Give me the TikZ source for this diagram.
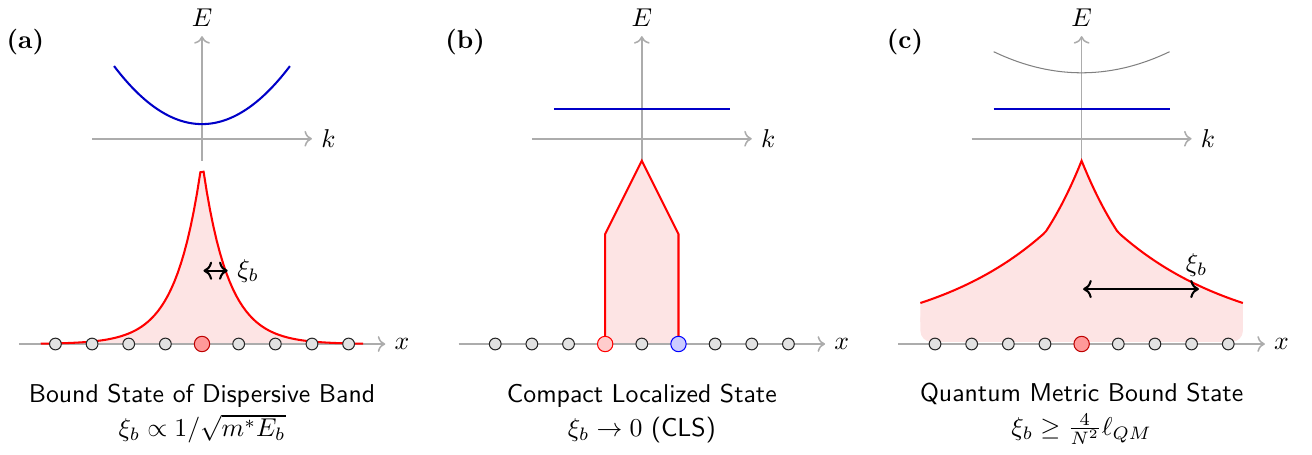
\documentclass[tikz,border=0pt]{standalone}
\usepackage{amsmath,amssymb}
\usetikzlibrary{arrows.meta,positioning}
\definecolor{WaveFill}{HTML}{FDE4E4}
\definecolor{SiteGray}{HTML}{E2E2E2}
\definecolor{BandBlue}{HTML}{0000C8}

\begin{document}
\begin{tikzpicture}[>=To]
        \tikzset{
          axis/.style={->, gray!65, semithick},
          axislabel/.style={text=black},
          band/.style={BandBlue, thick},
          wave/.style={red, thick},
          wavefill/.style={fill=WaveFill},
          site/.style={circle, draw=black!85, fill=SiteGray, thin,
            minimum size=0.16cm, inner sep=0pt},
          hotsite/.style={site, minimum size=0.21cm, fill=red!40, draw=red!75!black},
          panellabel/.style={font=\bfseries},
          caption/.style={align=center, font=\sffamily}
        }
        \useasboundingbox (-2.756,-1.514) rectangle (15.143,4.693);

        % (a) dispersive band
        \node[panellabel] (la) at (-2.41,4.12) {(a)};
        \draw[axis] (-1.5,2.8) -- (1.5,2.8) node[axislabel,right] (ka) {$k$};
        \draw[axis] (0,2.5) -- (0,4.2) node[axislabel,above] (ea) {$E$};
        \draw[band,domain=-1.2:1.2,samples=60] plot (\x,{3.0+0.55*\x*\x});
        \fill[wavefill,domain=-2.2:2.2,samples=100] (-2.2,0) -- plot (\x,{2.5*exp(-abs(\x)/0.35)}) -- (2.2,0) -- cycle;
        \draw[axis] (-2.5,0) -- (2.5,0) node[axislabel,right] (xa) {$x$};
        \draw[wave,domain=-2.2:2.2,samples=100] plot (\x,{2.5*exp(-abs(\x)/0.35)});
        \draw[<->,thick] (0.02,1.0) -- (0.35,1.0) node[right] (xia) {$\xi_b$};
        \foreach \i in {-4,...,4}
          \node[site] (sa\i) at (0.5*\i,0) {};
        \node[hotsite] (ca) at (0,0) {};
        \node[caption] (capa) at (0,-0.95) {Bound State of Dispersive Band\\[1pt] $\xi_b \propto 1/\sqrt{m^* E_b}$};

        % (b) flat band, compact localized state
        \begin{scope}[xshift=6cm]
          \node[panellabel] (lb) at (-2.41,4.12) {(b)};
          \draw[axis] (-1.5,2.8) -- (1.5,2.8) node[axislabel,right] (kb) {$k$};
          \draw[axis] (0,2.5) -- (0,4.2) node[axislabel,above] (eb) {$E$};
          \draw[band] (-1.2,3.2) -- (1.2,3.2);
          \fill[wavefill] (-0.5,0) -- (-0.5,1.5) -- (0,2.5) -- (0.5,1.5) -- (0.5,0) -- cycle;
          \draw[axis] (-2.5,0) -- (2.5,0) node[axislabel,right] (xb) {$x$};
          \draw[wave] (-0.5,0) -- (-0.5,1.5) -- (0,2.5) -- (0.5,1.5) -- (0.5,0);
          \foreach \i in {-4,...,4}
            \node[site] (sb\i) at (0.5*\i,0) {};
          \node[site, minimum size=0.21cm, fill=red!20, draw=red] (cbl) at (-0.5,0) {};
          \node[site, minimum size=0.21cm, fill=blue!20, draw=blue] (cbr) at (0.5,0) {};
          \node[caption] (capb) at (0,-0.95) {Compact Localized State\\[1pt] $\xi_b \to 0$ (CLS)};
        \end{scope}

        % (c) quantum metric bound state
        \begin{scope}[xshift=12cm]
          \node[panellabel] (lc) at (-2.41,4.12) {(c)};
          \draw[axis] (-1.5,2.8) -- (1.5,2.8) node[axislabel,right] (kc) {$k$};
          \draw[axis] (0,2.5) -- (0,4.2) node[axislabel,above] (ec) {$E$};
          \draw[gray, thin, domain=-1.2:1.2, samples=60] plot (\x,{3.7+0.2*\x*\x});
          \draw[band] (-1.2,3.2) -- (1.2,3.2);
          \fill[wavefill,domain=-2.2:2.2,samples=101] (-2.2,0.3) -- plot (\x,{abs(\x)<0.5 ? 2.5*exp(-abs(\x)) : 1.52*exp(-(abs(\x)-0.5)/1.7)}) -- (2.2,0.3) -- cycle;
          \fill[wavefill,rounded corners=0.15cm] (-2.2,0.03) rectangle (2.2,0.5);
          \draw[axis] (-2.5,0) -- (2.5,0) node[axislabel,right] (xc) {$x$};
          \draw[wave,domain=-2.2:2.2,samples=101] plot (\x,{abs(\x)<0.5 ? 2.5*exp(-abs(\x)) : 1.52*exp(-(abs(\x)-0.5)/1.7)});
          \draw[<->,thick] (0.02,0.75) -- (1.6,0.75) coordinate (xiend);
          \node[above=0.05cm of xiend,xshift=-0.03cm] (xic) {$\xi_b$};
          \foreach \i in {-4,...,4}
            \node[site] (sc\i) at (0.5*\i,0) {};
          \node[hotsite] (cc) at (0,0) {};
          \node[caption] (capc) at (0,-0.95) {Quantum Metric Bound State\\[1pt] $\xi_b \geq \frac{4}{N^2}\ell_{QM}$};
        \end{scope}
      \end{tikzpicture}
\end{document}
